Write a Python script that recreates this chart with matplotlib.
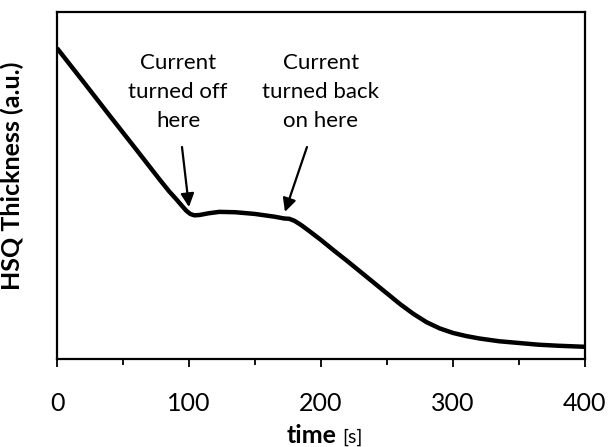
import matplotlib.pyplot as plt
from matplotlib.ticker import MultipleLocator

plt.rcParams['font.family'] = ['Lato', 'DejaVu Sans']

# thickness trace (arbitrary units)
time_s = [0, 20, 40, 60, 78, 85, 90, 95, 98, 101, 104, 108, 115, 123, 135,
          150, 165, 172, 176, 180, 185, 190, 200, 210, 220, 230, 240, 250,
          260, 270, 280, 290, 300, 310, 320, 335, 350, 365, 380, 400]
thickness = [0.896, 0.799, 0.701, 0.604, 0.516, 0.483, 0.462, 0.440, 0.427,
             0.418, 0.414, 0.415, 0.420, 0.424, 0.423, 0.418, 0.410, 0.405,
             0.404, 0.398, 0.386, 0.372, 0.343, 0.312, 0.282, 0.251, 0.220,
             0.189, 0.158, 0.130, 0.106, 0.088, 0.075, 0.066, 0.059, 0.051,
             0.046, 0.041, 0.038, 0.035]

off_note = 'Current\nturned off\nhere'
on_note = 'Current\nturned back\non here'

fig = plt.figure(figsize=(6.11, 4.47), dpi=100)
ax = fig.add_axes([0.0933, 0.197, 0.864, 0.776])

ax.plot(time_s, thickness, color='black', linewidth=3.2,
        solid_joinstyle='round', solid_capstyle='butt')

ax.set_xlim(0, 400)
ax.set_ylim(0, 1)
ax.xaxis.set_major_locator(MultipleLocator(100))
ax.xaxis.set_minor_locator(MultipleLocator(50))
ax.set_yticks([])
ax.tick_params(axis='x', which='major', length=6, width=1.3, pad=18,
               labelsize=18, direction='out')
ax.tick_params(axis='x', which='minor', length=4.5, width=1.3, direction='out')
for s in ax.spines.values():
    s.set_linewidth(1.6)

# annotations
arrow = dict(arrowstyle='-|>', color='black', lw=1.6, mutation_scale=20,
             shrinkA=0, shrinkB=0)
ax.text(91.7, 0.77, off_note, ha='center', va='center', fontsize=16,
        linespacing=1.55)
ax.text(200, 0.77, on_note, ha='center', va='center', fontsize=16,
        linespacing=1.55)
ax.annotate('', xy=(100, 0.438), xytext=(94.7, 0.611), arrowprops=arrow)
ax.annotate('', xy=(172.7, 0.424), xytext=(189.4, 0.611), arrowprops=arrow)

ax.set_ylabel('HSQ Thickness (a.u.)', fontsize=18, fontweight='bold')
ax.yaxis.set_label_coords(-0.0625, 0.527)

ax.text(0.530, -0.242, 'time', transform=ax.transAxes, ha='right',
        va='baseline', fontsize=18, fontweight='bold')
ax.text(0.540, -0.242, '[s]', transform=ax.transAxes, ha='left',
        va='baseline', fontsize=14)

fig.savefig('out.png', dpi=100)
